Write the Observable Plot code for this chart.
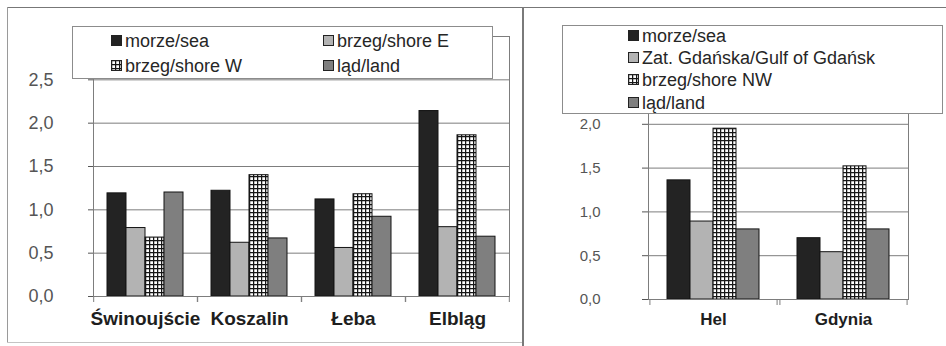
<!DOCTYPE html>
<html>
<head>
<meta charset="utf-8">
<script src="https://cdn.jsdelivr.net/npm/d3@7"></script>
<script src="https://cdn.jsdelivr.net/npm/@observablehq/plot@0.6"></script>
<style>
  body { margin: 0; background: #fff; }
  #page { position: relative; width: 946px; height: 346px; overflow: hidden; background: #fff;
          font-family: "Liberation Sans", Arial, sans-serif; }
  .rule { position: absolute; }
  .chart { position: absolute; top: 0; }
  .legend { position: absolute; background: #fff; border: 1px solid #8c8c8c; box-sizing: border-box; }
  .item { position: absolute; height: 20px; display: flex; align-items: center; font-size: 18px;
          color: #262626; white-space: nowrap; }
  .item svg { margin-right: 2px; }
</style>
</head>
<body>
<svg width="0" height="0" style="position:absolute">
  <defs>
    <pattern id="check" width="4" height="4" patternUnits="userSpaceOnUse">
      <rect width="4" height="4" fill="#fff"/>
      <path d="M0 0.6H4M0.6 0V4" stroke="#161616" stroke-width="1.3"/>
    </pattern>
  </defs>
</svg>
<div id="page">
  <div class="rule" style="left:7px;top:7px;width:939px;height:1px;background:#777"></div>
  <div class="rule" style="left:7px;top:7px;width:1px;height:336px;background:#9a9a9a"></div>
  <div class="rule" style="left:7px;top:342px;width:516px;height:1px;background:#c4c4c4"></div>
  <div id="west" class="chart" style="left:0"></div>
  <div id="gulf" class="chart" style="left:524px"></div>
  <div class="rule" style="left:522px;top:7px;width:2px;height:339px;background:#7a7a7a"></div>
  <div id="legWest" class="legend" style="left:72px;top:26px;width:421px;height:53px"></div>
  <div id="legGulf" class="legend" style="left:562px;top:25px;width:381px;height:89px"></div>
</div>
<script>
// Stations along the open coast
const citiesWest = ["Świnoujście", "Koszalin", "Łeba", "Elbląg"];
const seriesWest = ["morze/sea", "brzeg/shore E", "brzeg/shore W", "ląd/land"];
const seaWest    = [1.19, 1.22, 1.12, 2.14];
const shoreEWest = [0.79, 0.62, 0.56, 0.80];
const shoreWWest = [0.68, 1.40, 1.18, 1.86];
const landWest   = [1.20, 0.67, 0.92, 0.69];
const ticksWest  = [0, 0.5, 1.0, 1.5, 2.0, 2.5];

// Stations on the Gulf of Gdańsk
const citiesGulf = ["Hel", "Gdynia"];
const seriesGulf = ["morze/sea", "Zat. Gdańska/Gulf of Gdańsk", "brzeg/shore NW", "ląd/land"];
const seaGulf    = [1.36, 0.70];
const bayGulf    = [0.89, 0.54];
const shoreNWGulf = [1.95, 1.52];
const landGulf   = [0.80, 0.80];
const ticksGulf  = [0, 0.5, 1.0, 1.5, 2.0];

const fills = ["#232323", "#b3b3b3", "url(#check)", "#7f7f7f"];
const GRID = "#7d7d7d";
const OUTER = 0.715; // gap around each group, in bar widths

function tableOf(cities, series, columns) {
  const rows = [];
  cities.forEach((city, i) => {
    series.forEach((s, j) => rows.push({city, series: s, value: columns[j][i]}));
  });
  return rows;
}

function barChart(cfg) {
  const {cities, series, rows, yMax, ticks, width, margin, yFont, yPad, ySize, xFont, xPad} = cfg;
  const facetW = (width - margin.left - margin.right) / cities.length;
  const step = facetW / (series.length + 2 * OUTER);
  const edge = step * (OUTER + 0.5);
  const grid = d3.range(1, Math.round(yMax / 0.5) + 1).map(k => k * 0.5);
  const first = rows.filter(d => d.series === series[0]);
  const last = rows.filter(d => d.series === series[series.length - 1]);
  return Plot.plot({
    width, height: 346,
    marginLeft: margin.left, marginRight: margin.right,
    marginTop: margin.top, marginBottom: margin.bottom,
    style: {fontFamily: "Liberation Sans, Arial, sans-serif", background: "transparent", overflow: "visible"},
    fx: {domain: cities, padding: 0, axis: null, label: null},
    x: {domain: series, paddingInner: 0, paddingOuter: OUTER, axis: null},
    y: {domain: [0, yMax], axis: null},
    color: {domain: series, range: fills},
    marks: [
      Plot.gridY(grid, {stroke: GRID, strokeOpacity: 1}),
      Plot.barY(rows, {fx: "city", x: "series", y: "value", fill: "series", stroke: "#141414", strokeWidth: 1}),
      Plot.ruleY([0], {stroke: GRID}),
      Plot.frame({anchor: "left", facetAnchor: "left", stroke: GRID}),
      Plot.frame({anchor: "right", facetAnchor: "right", stroke: GRID}),
      Plot.ruleX(first, {fx: "city", x: "series", y1: 0, y2: 0, insetBottom: -6, dx: -edge, stroke: GRID}),
      Plot.ruleX(last, {fx: "city", x: "series", y1: 0, y2: 0, insetBottom: -6, dx: edge, stroke: GRID}),
      Plot.axisY(ticks, {
        tickFormat: d => d.toFixed(1).replace(".", ","),
        tickSize: ySize, tickPadding: yPad, fontSize: yFont, color: "#555", label: null
      }),
      Plot.axisFx({
        anchor: "bottom", tickSize: 0, tickPadding: xPad, fontSize: xFont,
        fontWeight: "bold", color: "#1e1e1e", label: null
      })
    ]
  });
}

document.getElementById("west").append(barChart({
  cities: citiesWest, series: seriesWest,
  rows: tableOf(citiesWest, seriesWest, [seaWest, shoreEWest, shoreWWest, landWest]),
  yMax: 3, ticks: ticksWest, width: 523,
  margin: {left: 92, right: 14, top: 36, bottom: 50},
  yFont: 18, yPad: 35, ySize: 5, xFont: 19, xPad: 15
}));

document.getElementById("gulf").append(barChart({
  cities: citiesGulf, series: seriesGulf,
  rows: tableOf(citiesGulf, seriesGulf, [seaGulf, bayGulf, shoreNWGulf, landGulf]),
  yMax: 2.5, ticks: ticksGulf, width: 422,
  margin: {left: 124, right: 38, top: 80, bottom: 47},
  yFont: 15, yPad: 42, ySize: 6, xFont: 17, xPad: 13
}));

function legend(id, series, spots) {
  const box = document.getElementById(id);
  series.forEach((s, i) => {
    const item = document.createElement("div");
    item.className = "item";
    item.style.left = spots[i][0] + "px";
    item.style.top = spots[i][1] + "px";
    item.innerHTML =
      `<svg width="12" height="12"><rect x="0.5" y="0.5" width="10" height="10" fill="${fills[i]}" stroke="#222"/></svg>` +
      `<span>${s}</span>`;
    box.append(item);
  });
}
legend("legWest", seriesWest, [[38, 4], [250, 4], [38, 29], [250, 29]]);
legend("legGulf", seriesGulf, [[65, 0], [65, 22], [65, 44], [65, 67]]);
</script>
</body>
</html>
